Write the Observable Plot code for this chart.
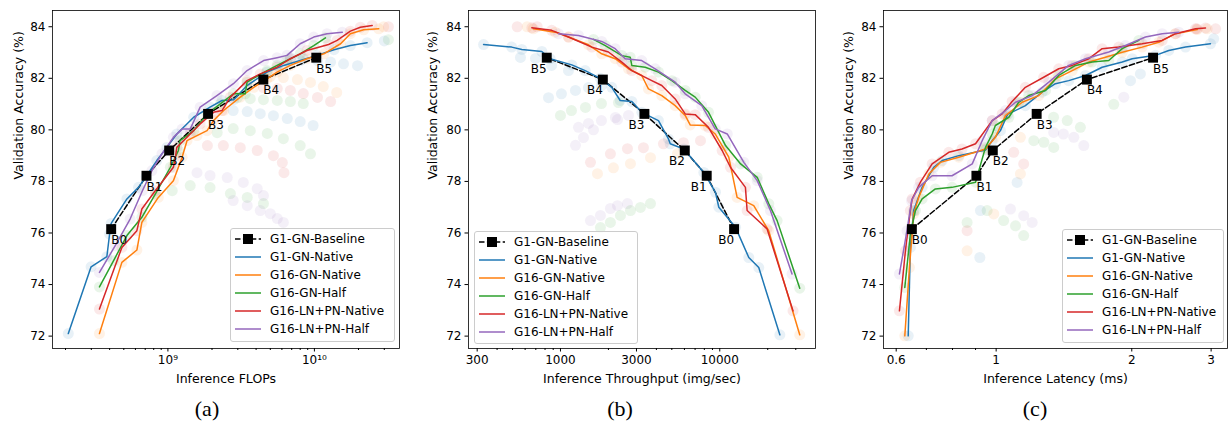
<!DOCTYPE html>
<html><head><meta charset="utf-8">
<script src="https://cdn.jsdelivr.net/npm/d3@7"></script>
<script src="https://cdn.jsdelivr.net/npm/@observablehq/plot@0.6"></script>
<style>
body{margin:0;background:#fff;font-family:"DejaVu Sans",sans-serif;}
#fig{position:relative;width:1228px;height:424px;overflow:hidden;background:#fff}
.cap{position:absolute;top:396px;height:26px;line-height:26px;font-family:"Liberation Serif","Times New Roman",serif;font-size:22px;transform:translateX(-50%);white-space:nowrap}
</style>
</head><body><div id="fig"></div>
<script>
// ---- series definitions ----
const seriesNames = ["G1-GN-Native","G16-GN-Native","G16-GN-Half","G16-LN+PN-Native","G16-LN+PN-Half"];
const seriesColors = ["#1f77b4","#ff7f0e","#2ca02c","#d62728","#9467bd"];
const baseLabels = ["B0","B1","B2","B3","B4","B5"];
const baseAcc = [76.15,78.22,79.2,80.62,81.95,82.8];
const baseFlops = [4.1e8,7.14e8,1.02e9,1.88e9,4.48e9,1.03e10];
const baseThroughput = [12300,8280,6030,3365,1845,820];
const baseLatency = [0.650,0.904,0.983,1.23,1.59,2.23];
const yTicks = [72,74,76,78,80,82,84];

// ---- panel (a): FLOPs ----
const aG1Native = [[2.09e8,72.10],[2.99e8,74.69],[3.83e8,75.08],[4.0e8,75.96],[4.1e8,76.37],[5.25e8,77.32],[6.3e8,77.77],[7.1e8,78.19],[8.4e8,78.81],[9.84e8,79.32],[1.15e9,79.84],[1.5e9,80.49],[1.94e9,80.88],[2.34e9,81.14],[2.81e9,81.17],[3.47e9,81.72],[4.75e9,82.24],[6.17e9,82.5],[8.0e9,82.69],[1.04e10,82.89],[1.36e10,83.11],[1.76e10,83.27],[2.29e10,83.38]];
const aG16Native = [[3.41e8,72.10],[4.85e8,74.86],[6.14e8,75.34],[6.64e8,76.41],[8.6e8,77.38],[1.09e9,78.03],[1.25e9,78.94],[1.35e9,79.58],[1.58e9,79.78],[1.85e9,79.97],[2.05e9,80.36],[2.4e9,80.75],[3.12e9,81.27],[3.85e9,81.65],[4.75e9,81.98],[5.56e9,82.24],[6.85e9,82.5],[8.9e9,82.76],[1.16e10,82.95],[1.51e10,83.34],[1.76e10,83.73],[2.17e10,83.88],[2.75e10,83.92]];
const aG16Half = [[3.41e8,73.91],[4.25e8,74.92],[5.25e8,75.90],[6.64e8,76.61],[8.2e8,77.51],[1.04e9,78.55],[1.18e9,79.2],[1.21e9,79.58],[1.5e9,79.97],[1.85e9,80.62],[2.28e9,81.01],[2.8e9,81.40],[3.37e9,81.40],[3.47e9,81.85],[4.75e9,82.30],[5.56e9,82.50],[6.5e9,82.69],[8.0e9,82.95],[9.9e9,83.27],[1.19e10,83.57]];
const aLNNative = [[3.41e8,73.05],[4.85e8,75.44],[6.14e8,76.09],[6.64e8,76.93],[8.2e8,77.64],[1.09e9,78.55],[1.13e9,79.0],[1.15e9,79.32],[1.42e9,79.84],[1.66e9,80.23],[2.05e9,80.68],[2.34e9,80.75],[2.67e9,81.27],[3.47e9,81.91],[4.27e9,82.17],[5.56e9,82.43],[6.85e9,82.76],[8.9e9,83.08],[1.25e10,83.31],[1.43e10,83.47],[1.76e10,83.83],[2.06e10,83.98],[2.48e10,84.05]];
const aLNHalf = [[3.41e8,74.47],[4.37e8,75.51],[5.52e8,76.54],[6.7e8,77.64],[7.78e8,78.42],[9.1e8,79.07],[1.09e9,79.71],[1.25e9,80.03],[1.42e9,80.03],[1.66e9,80.88],[2.16e9,81.33],[2.8e9,81.79],[3.47e9,82.30],[4.5e9,82.69],[5.56e9,82.80],[6.5e9,82.89],[8.0e9,83.34],[9.9e9,83.60],[1.22e10,83.73],[1.55e10,83.79]];
const aExtraDots = [
 [0,6.85e9,82.80],[0,8.4e9,82.76],[0,1.05e10,82.69],[0,1.29e10,82.63],[0,1.58e10,82.56],[0,1.97e10,82.49],
 [1,5.0e9,82.07],[1,6.14e9,82.03],[1,7.66e9,81.95],[1,9.4e9,81.84],[1,1.15e10,81.68],[1,1.42e10,81.45],
 [3,4.49e9,81.64],[3,5.58e9,81.60],[3,6.85e9,81.53],[3,8.4e9,81.41],[3,1.05e10,81.26],[3,1.29e10,81.10],
 [2,2.98e9,81.25],[2,3.65e9,81.21],[2,4.49e9,81.17],[2,5.58e9,81.14],[2,6.85e9,81.10],[2,8.4e9,81.02],
 [0,2.79e9,80.75],[0,3.48e9,80.71],[0,4.27e9,80.63],[0,5.25e9,80.55],[0,6.53e9,80.44],[0,8.0e9,80.32],[0,9.8e9,80.17],
 [2,2.17e9,79.89],[2,2.79e9,80.05],[2,3.65e9,79.97],[2,4.77e9,79.86],[2,6.14e9,79.66],[2,8.0e9,79.39],[2,9.4e9,79.07],
 [3,1.86e9,79.39],[3,2.39e9,79.39],[3,3.12e9,79.31],[3,4.07e9,79.20],[3,5.25e9,79.0],[3,6.04e9,78.73],[3,6.2e9,78.34],
 [4,1.58e9,78.34],[4,1.94e9,78.23],[4,2.54e9,78.15],[4,3.27e9,77.96],[4,4.07e9,77.72],[4,4.49e9,77.45],
 [2,1.07e9,77.64],[2,1.42e9,77.84],[2,1.94e9,77.76],[2,2.67e9,77.53],[2,3.48e9,77.38],[2,4.49e9,77.14],
 [4,2.79e9,77.26],[4,3.48e9,77.06],[4,4.27e9,76.87],[4,5.0e9,76.75],[4,5.58e9,76.56],[4,6.14e9,76.41],
 [1,2.97e10,84.0],[3,3.2e10,84.0],[0,3.0e10,83.45],[2,3.2e10,83.5]
];

// ---- panel (b): throughput ----
const bG1Native = [[329,83.31],[494,83.21],[572,83.12],[764,83.04],[861,82.76],[1178,82.52],[1429,82.30],[1775,82.0],[2099,81.65],[2371,81.14],[2805,81.10],[3240,80.68],[4121,80.36],[4764,79.65],[4887,79.46],[5941,79.26],[7944,78.35],[9397,77.58],[9862,77.0],[12560,76.22],[15210,75.05],[17570,74.66],[23830,72.05]];
const bG16Native = [[676,83.92],[926,83.79],[1123,83.60],[1499,83.30],[1815,82.95],[2205,82.76],[2672,82.37],[3237,82.11],[3566,81.59],[4325,81.33],[5250,80.94],[6065,80.56],[6520,80.19],[8100,80.17],[9360,79.84],[11390,78.94],[12850,77.38],[16340,77.06],[20280,76.09],[31770,72.05]];
const bG16Half = [[1611,83.51],[1911,83.27],[2428,82.88],[2740,82.82],[2805,82.50],[3405,82.43],[4122,82.24],[5004,81.91],[6066,81.53],[7010,81.27],[8500,80.68],[10870,79.39],[13520,78.68],[17180,78.16],[20320,77.13],[22910,76.48],[31770,73.86]];
const bLNNative = [[661,83.96],[881,83.86],[1123,83.60],[1574,83.21],[2000,83.02],[2427,82.63],[2805,82.30],[3742,81.91],[4325,81.72],[5250,81.20],[6065,80.62],[7013,80.59],[8490,80.10],[10350,79.20],[11670,78.55],[14490,77.77],[14850,76.87],[19810,76.16],[28840,72.98]];
const bLNHalf = [[971,83.73],[1297,83.66],[1815,83.43],[2205,83.15],[2547,82.76],[3237,82.69],[3928,82.37],[5250,81.85],[6065,81.40],[7708,80.94],[9360,80.04],[11140,79.84],[14160,78.74],[17180,78.03],[20800,76.87],[28430,74.41]];
const bExtraDots = [
 [0,841,81.25],[0,1014,81.40],[0,1242,81.53],[0,1499,81.64],[0,1808,81.72],
 [2,1000,80.56],[2,1172,80.75],[2,1435,80.87],[2,1808,81.02],[2,2312,81.06],
 [4,1297,80.10],[4,1499,80.25],[4,1808,80.36],[4,2213,80.48],[4,2673,80.56],
 [0,561,82.81],[0,697,82.77],[0,879,82.50],[0,1123,82.30],
 [4,1242,79.4],[4,1394,79.7],[4,1611,80.0],[4,2280,80.4],
 [3,1543,78.74],[3,2058,79.07],[3,2633,79.27],[3,3317,79.31],[3,4430,79.46],[3,5913,79.50],[3,7566,79.58],
 [1,1707,78.30],[1,2150,78.53],[1,2750,78.69],[1,3674,78.92],[1,5427,79.08],
 [4,1543,76.48],[4,1782,76.68],[4,2058,76.95],[4,2280,77.06],[4,2633,77.14],
 [2,1782,76.21],[2,2058,76.41],[2,2380,76.68],[2,2750,76.87],[2,3177,76.99],[2,3674,77.14],
 [3,535,84.0],[1,618,84.0],[3,714,84.0]
];

// ---- panel (c): latency ----
const cG1Native = [[0.638,72.01],[0.645,75.44],[0.656,76.87],[0.685,77.77],[0.727,78.55],[0.759,78.81],[0.826,79.0],[0.947,79.22],[0.980,79.58],[1.022,79.97],[1.06,80.6],[1.161,80.94],[1.265,81.46],[1.354,81.79],[1.449,81.91],[1.579,82.11],[1.719,82.43],[1.905,82.63],[2.004,82.76],[2.258,82.89],[2.416,83.08],[2.632,83.21],[2.990,83.34]];
const cG16Native = [[0.627,72.01],[0.642,74.66],[0.656,76.74],[0.673,77.38],[0.709,78.29],[0.752,78.74],[0.826,78.94],[0.947,79.26],[0.996,79.71],[1.049,80.55],[1.142,81.07],[1.243,81.33],[1.354,81.98],[1.475,82.30],[1.606,82.63],[1.748,82.82],[1.905,83.01],[2.109,83.21],[2.296,83.40],[2.500,83.73],[2.794,83.89]];
const cG16Half = [[0.627,73.89],[0.645,75.96],[0.662,76.87],[0.685,77.32],[0.733,77.71],[0.798,77.77],[0.900,77.97],[0.947,79.32],[0.980,79.84],[0.996,80.17],[1.067,80.49],[1.122,81.07],[1.181,81.33],[1.287,81.53],[1.377,82.11],[1.500,82.50],[1.633,82.63],[1.778,82.69],[1.905,83.15],[2.073,83.47]];
const cLNNative = [[0.610,72.98],[0.629,75.31],[0.645,76.87],[0.651,77.32],[0.679,77.97],[0.721,78.68],[0.785,79.13],[0.840,79.26],[0.900,79.46],[0.980,80.36],[1.031,80.62],[1.085,81.1],[1.161,81.65],[1.275,82.04],[1.377,82.37],[1.475,82.50],[1.606,82.76],[1.719,83.15],[1.871,83.21],[2.109,83.34],[2.336,83.47],[2.500,83.73],[2.770,83.92],[2.915,83.95]];
const cLNHalf = [[0.610,74.41],[0.634,76.09],[0.649,77.25],[0.673,77.77],[0.721,78.22],[0.798,78.22],[0.885,78.68],[0.931,79.58],[0.980,80.36],[1.049,80.75],[1.104,81.07],[1.202,81.33],[1.309,81.85],[1.449,82.50],[1.579,82.76],[1.778,83.02],[1.936,83.27],[2.145,83.60],[2.336,83.73],[2.543,83.79]];
const cExtraDots = [
 [2,0.862,76.41],[0,0.923,76.87],[2,0.955,76.87],[1,0.988,76.74],[2,1.039,76.48],[2,1.104,76.28],[2,1.151,75.90],
 [4,1.202,76.41],[4,1.151,76.67],[4,1.076,76.93],[3,0.862,76.09],[1,0.862,75.31],[0,0.920,75.05],
 [4,1.342,79.9],[4,1.41,79.84],[4,1.487,79.71],[4,1.565,79.39],[2,1.341,80.49],[2,1.438,80.36],[2,1.538,80.10],
 [2,1.824,80.99],[4,1.92,81.27],[0,1.987,81.91],[0,2.09,82.17],
 [2,1.212,79.58],[2,1.276,79.52],[2,1.342,79.32],[1,1.132,79.71],[3,1.151,78.68],[3,1.094,79.13],[1,1.132,78.29],[0,1.113,77.96],
 [3,2.79,83.92],[1,2.94,83.92],[3,3.07,83.92],[0,3.04,83.53]
];

// ---- tick labels ----
const aMajor = [1e9,1e10], aMajorLabels = ["10⁹","10¹⁰"];
const aMinor = [2e8,3e8,4e8,5e8,6e8,7e8,8e8,9e8,2e9,3e9,4e9,5e9,6e9,7e9,8e9,9e9,2e10,3e10];
const bMajor = [300,1000,3000,10000], bMajorLabels = ["300","1000","3000","10000"];
const bMinor = [400,500,600,700,800,900,2000,4000,5000,6000,7000,8000,9000,20000,30000];
const cMajor = [0.6,1,2,3], cMajorLabels = ["0.6","1","2","3"];
const cMinor = [0.7,0.8,0.9];

const FONT = '"DejaVu Sans", sans-serif';

function panel(o) {
  const base = baseLabels.map((l,i)=>({x:o.baseX[i], y:baseAcc[i], label:l}));
  const dots = [];
  o.lines.forEach((pts,i)=>pts.forEach(([x,y])=>dots.push({x,y,c:seriesColors[i]})));
  o.extras.forEach(([s,x,y])=>dots.push({x,y,c:seriesColors[s]}));
  return Plot.plot({
    width:o.width, height:390, marginTop:10, marginBottom:42, marginLeft:o.marginLeft, marginRight:o.marginRight,
    style:{fontFamily:FONT, fontSize:"12px", color:"#000", background:"transparent", overflow:"visible"},
    x:{type:"log", domain:o.xDomain},
    y:{domain:[71.52,84.63]},
    color:{type:"identity"},
    marks:[
      Plot.dot(dots,{x:"x",y:"y",fill:"c",fillOpacity:0.1,r:5.5}),
      Plot.line(base,{x:"x",y:"y",stroke:"#000",strokeWidth:1.5,strokeDasharray:"5.5,2.4"}),
      ...o.lines.map((pts,i)=>Plot.line(pts,{x:d=>d[0],y:d=>d[1],stroke:seriesColors[i],strokeWidth:1.5})),
      Plot.dot(base,{x:"x",y:"y",symbol:"square",fill:"#000",r:5.6}),
      Plot.text(base,{x:"x",y:"y",text:"label",dy:11,textAnchor:o.anchor,fontSize:12,fill:"#000"}),
      Plot.axisY({ticks:yTicks,tickSize:3.5,tickPadding:3.5,label:null,fontSize:12}),
      Plot.axisX({ticks:o.minor,tickSize:2,tickFormat:()=>"",label:null}),
      Plot.axisX({ticks:o.major,tickSize:3.5,tickPadding:3.5,tickFormat:d=>o.majorLabels[o.major.indexOf(d)],label:null,fontSize:12}),
      Plot.frame({stroke:"#000",strokeWidth:0.8}),
      Plot.text([o.xLabel],{frameAnchor:"bottom",dy:34,text:d=>d,fontSize:12.5,fill:"#000"}),
      Plot.text(["Validation Accuracy (%)"],{frameAnchor:"left",dx:-o.ylabelDx,rotate:-90,text:d=>d,fontSize:12.5,fill:"#000"})
    ]
  });
}

function legend(w,h) {
  const svg = d3.create("svg").attr("width",w).attr("height",h)
    .style("font-family",FONT).style("font-size","12px").style("display","block");
  svg.append("rect").attr("x",0.5).attr("y",0.5).attr("width",w-1).attr("height",h-1).attr("rx",2.5)
    .attr("fill","#fff").attr("fill-opacity",0.8).attr("stroke","#cccccc");
  const entries = [{name:"G1-GN-Baseline",color:"#000",base:true}, ...seriesNames.map((n,i)=>({name:n,color:seriesColors[i]}))];
  entries.forEach((e,i)=>{
    const y = 11 + 18*i;
    const ln = svg.append("line").attr("x1",5).attr("x2",31).attr("y1",y).attr("y2",y)
      .attr("stroke",e.color).attr("stroke-width",1.5);
    if (e.base) {
      ln.attr("stroke-dasharray","5.5,2.4");
      svg.append("rect").attr("x",13).attr("y",y-5).attr("width",10).attr("height",10).attr("fill","#000");
    }
    svg.append("text").attr("x",40).attr("y",y).attr("dy","0.35em").attr("fill","#000").text(e.name);
  });
  return svg.node();
}

const fig = document.getElementById("fig");
function place(el,left,top){const d=document.createElement("div");d.style.cssText=`position:absolute;left:${left}px;top:${top}px`;d.append(el);fig.append(d);}
function caption(t,cx){const d=document.createElement("div");d.className="cap";d.style.left=cx+"px";d.textContent=t;fig.append(d);}

place(panel({width:410,marginLeft:52,marginRight:11,xDomain:[1.63e8,3.81e10],major:aMajor,majorLabels:aMajorLabels,minor:aMinor,
  xLabel:"Inference FLOPs",lines:[aG1Native,aG16Native,aG16Half,aLNNative,aLNHalf],extras:aExtraDots,baseX:baseFlops,anchor:"start",ylabelDx:34}),0,0);
place(panel({width:410,marginLeft:58,marginRight:5,xDomain:[264.6,39900],major:bMajor,majorLabels:bMajorLabels,minor:bMinor,
  xLabel:"Inference Throughput (img/sec)",lines:[bG1Native,bG16Native,bG16Half,bLNNative,bLNHalf],extras:bExtraDots,baseX:baseThroughput,anchor:"end",ylabelDx:36}),410,0);
place(panel({width:408,marginLeft:63,marginRight:1,xDomain:[0.5623,3.262],major:cMajor,majorLabels:cMajorLabels,minor:cMinor,
  xLabel:"Inference Latency (ms)",lines:[cG1Native,cG16Native,cG16Half,cLNNative,cLNHalf],extras:cExtraDots,baseX:baseLatency,anchor:"start",ylabelDx:35}),820,0);

place(legend(165,114),230,228);
place(legend(164,113),474,231);
place(legend(162,114),1062,229);

caption("(a)",207);
caption("(b)",620);
caption("(c)",1035);
</script>
</body></html>
